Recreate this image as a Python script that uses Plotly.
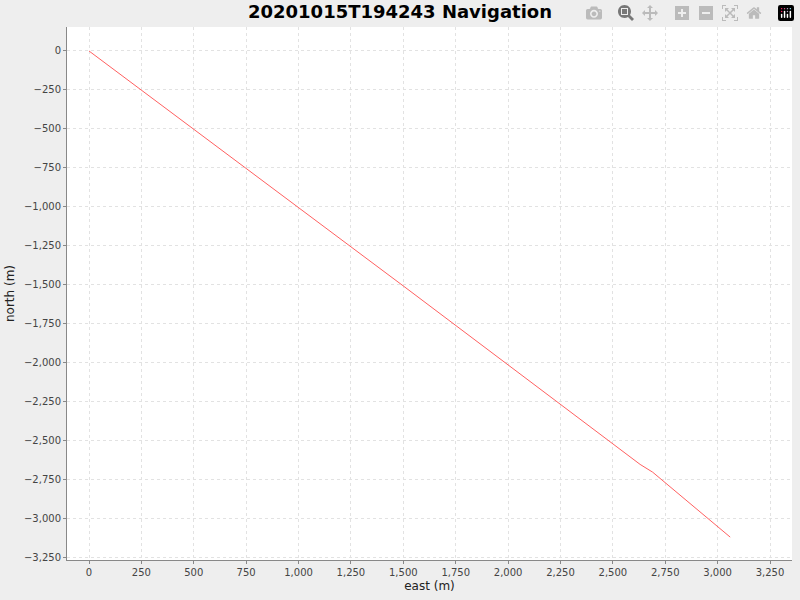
import plotly.graph_objects as go

# Data
east = [0, 1500, 2630, 2660, 2690, 3060]
north = [0, -1509, -2655, -2680, -2705, -3122]
x_ticks = list(range(0, 3251, 250))
y_ticks = list(range(0, -3251, -250))

fig = go.Figure(go.Scatter(x=east, y=north, mode="lines",
                           line=dict(color="#ff6060", width=1)))

axis_common = dict(
    showgrid=True, gridcolor="#e2e2e2", griddash="3px,3px", gridwidth=1,
    zeroline=False, showline=True, linecolor="#888888", ticks="outside",
    ticklen=3, tickcolor="#888888", tickformat=",d",
    tickfont=dict(family="DejaVu Sans", size=10, color="#444444"),
)

fig.update_layout(
    width=800, height=600,
    title=dict(text="<b>20201015T194243 Navigation</b>", x=0.5,
               yref="container", y=0.98, yanchor="middle",
               font=dict(family="DejaVu Sans", size=18, color="black")),
    paper_bgcolor="#eeeeee", plot_bgcolor="white",
    margin=dict(l=67, r=8, t=27, b=40),
    showlegend=False,
    xaxis=dict(title=dict(text="east (m)", font=dict(family="DejaVu Sans", size=12, color="#222222"), standoff=4),
               range=[-105, 3355], tickvals=x_ticks, **axis_common),
    yaxis=dict(title=dict(text="north (m)", font=dict(family="DejaVu Sans", size=12, color="#222222"), standoff=6),
               range=[-3269, 154], tickvals=y_ticks, **axis_common),
)

fig.write_html("out.html",
               post_script="document.body.style.margin='0';document.body.style.background='#eeeeee';")
